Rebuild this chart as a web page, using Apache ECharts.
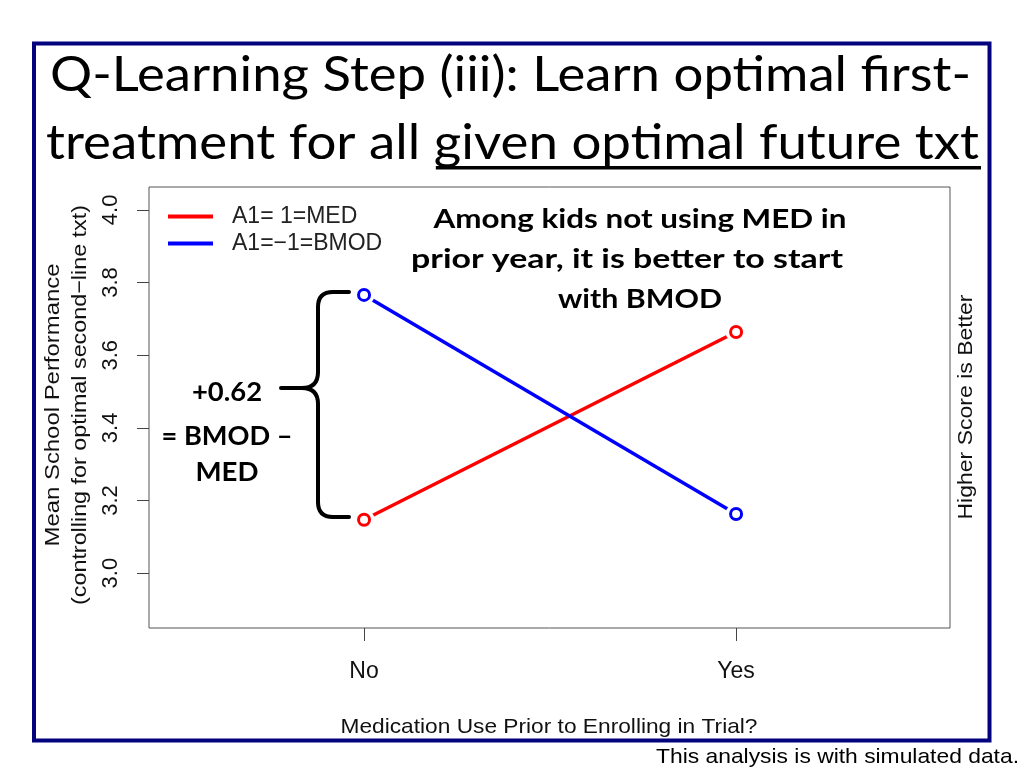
<!DOCTYPE html>
<html>
<head>
<meta charset="utf-8">
<script src="https://cdn.jsdelivr.net/npm/echarts@6/dist/echarts.min.js"></script>
<style>
html,body{margin:0;padding:0;background:#fff;}
#chart{width:1024px;height:768px;}
</style>
</head>
<body>
<div id="chart"></div>
<script>
// ---- data ----
const categories = ['No', 'Yes'];
const xPositions = [1, 2];
const medScores = [3.147, 3.664];
const bmodScores = [3.766, 3.163];
const yTicks = [3.0, 3.2, 3.4, 3.6, 3.8, 4.0];
const seriesNames = ['A1= 1=MED', 'A1=\u22121=BMOD'];
const titleLines = ['Q-Learning Step (iii): Learn optimal first-', 'treatment for all ', 'given optimal future txt'];
const noteLines = ['Among kids not using MED in', 'prior year, it is better to start', 'with BMOD'];
const diffLines = ['+0.62', '= BMOD \u2013', 'MED'];
const yTitleLines = ['Mean School Performance', '(controlling for optimal second\u2212line txt)'];
const xTitle = 'Medication Use Prior to Enrolling in Trial?';
const rightTitle = 'Higher Score is Better';
const footnote = 'This analysis is with simulated data.';

// ---- helpers ----
const mctx = document.createElement('canvas').getContext('2d');
function measure(text, font) { mctx.font = font; return mctx.measureText(text).width; }
function txt(text, font, x, y, align, targetW, rotation, fill) {
  const sx = targetW ? targetW / measure(text, font) : 1;
  return {
    type: 'text', x: x, y: y, rotation: rotation || 0, scaleX: sx, silent: true,
    style: { text: text, font: font, fill: fill || '#000',
      align: align, textAlign: align, verticalAlign: 'middle', textVerticalAlign: 'middle' }
  };
}
const braceStyle = { stroke: '#000', lineWidth: 4, fill: 'none', lineCap: 'round' };
function seg(x1, y1, x2, y2) {
  return { type: 'line', silent: true, shape: { x1: x1, y1: y1, x2: x2, y2: y2 }, style: braceStyle };
}
function curve(x1, y1, cx, cy, x2, y2) {
  return { type: 'bezierCurve', silent: true, shape: { x1: x1, y1: y1, cpx1: cx, cpy1: cy, x2: x2, y2: y2 }, style: braceStyle };
}

const titleFont = '48px Lato';
const t1 = txt(titleLines[0], titleFont, 50, 76, 'left', 921);
const line2Full = titleLines[1] + titleLines[2];
const s2 = 933 / measure(line2Full, titleFont);
const t2 = txt(line2Full, titleFont, 46, 144, 'left', 933);
const ulStart = 46 + measure(titleLines[1], titleFont) * s2 + 2;

const boldFont = 'bold 26px Lato';
const noteW = [413, 432, 164];
const noteX = [640, 627, 640];
const noteY = [220, 260, 300];
const diffW = [70, 131, 63];
const diffY = [393, 437, 473];
const rFont = '21px "Liberation Sans"';

const graphics = [
  { type: 'rect', silent: true, shape: { x: 34, y: 43.5, width: 955.5, height: 697 },
    style: { fill: 'none', stroke: '#03037f', lineWidth: 4 } },
  t1, t2,
  { type: 'rect', silent: true, shape: { x: ulStart, y: 166, width: 981 - ulStart, height: 3.5 }, style: { fill: '#000' } },
  seg(349, 292, 333, 292), curve(333, 292, 318, 292, 318, 307), seg(318, 307, 318, 372),
  curve(318, 372, 318, 388, 302, 388), seg(302, 388, 281, 388),
  curve(302, 388, 318, 388, 318, 404), seg(318, 404, 318, 502),
  curve(318, 502, 318, 517, 333, 517), seg(333, 517, 349, 517)
];
noteLines.forEach((s, i) => graphics.push(txt(s, boldFont, noteX[i], noteY[i], 'center', noteW[i])));
diffLines.forEach((s, i) => graphics.push(txt(s, boldFont, 227, diffY[i], 'center', diffW[i])));
graphics.push(txt(yTitleLines[0], rFont, 53, 405, 'center', 283, Math.PI / 2, '#111'));
graphics.push(txt(yTitleLines[1], rFont, 80, 405, 'center', 400, Math.PI / 2, '#111'));
graphics.push(txt(rightTitle, rFont, 966, 407, 'center', 225, Math.PI / 2, '#111'));
graphics.push(txt(xTitle, rFont, 549, 727, 'center', 417, 0, '#111'));
graphics.push(txt(footnote, rFont, 1019, 757, 'right', 363, 0, '#000'));

const medPts = xPositions.map((x, i) => [x, medScores[i]]);
const bmodPts = xPositions.map((x, i) => [x, bmodScores[i]]);

const chart = echarts.init(document.getElementById('chart'), null, { renderer: 'canvas', width: 1024, height: 768 });
chart.setOption({
  animation: false,
  backgroundColor: '#fff',
  grid: { left: 149, top: 187, width: 801, height: 441, show: true, borderColor: '#555', borderWidth: 1 },
  legend: {
    data: seriesNames, orient: 'vertical', left: 168, top: 205, padding: 0, icon: 'rect',
    itemWidth: 45, itemHeight: 4, itemGap: 4, selectedMode: false,
    textStyle: { fontSize: 23, fontFamily: 'Liberation Sans', color: '#222', padding: [0, 0, 0, 14] }
  },
  xAxis: {
    type: 'value', min: 0.422, max: 2.575,
    axisLine: { show: false }, splitLine: { show: false },
    axisTick: { show: true, customValues: xPositions, length: 13, lineStyle: { color: '#444' } },
    axisLabel: { customValues: xPositions, formatter: v => categories[xPositions.indexOf(v)],
      margin: 32, fontSize: 23, fontFamily: 'Liberation Sans', color: '#111' }
  },
  yAxis: {
    type: 'value', min: 2.849, max: 4.063,
    axisLine: { show: false }, splitLine: { show: false },
    axisTick: { show: true, customValues: yTicks, length: 12, lineStyle: { color: '#444' } },
    axisLabel: { customValues: yTicks, formatter: v => v.toFixed(1), rotate: 90,
      margin: 27, fontSize: 22, fontFamily: 'Liberation Sans', color: '#111' }
  },
  series: [
    { type: 'line', name: seriesNames[0], data: medPts, showSymbol: false, z: 2,
      lineStyle: { color: '#ff0000', width: 3.5 }, itemStyle: { color: '#ff0000' } },
    { type: 'line', name: seriesNames[1], data: bmodPts, showSymbol: false, z: 2,
      lineStyle: { color: '#0000ff', width: 3.5 }, itemStyle: { color: '#0000ff' } },
    { type: 'scatter', data: medPts.concat(bmodPts), symbolSize: 21, z: 3, silent: true,
      itemStyle: { color: '#ffffff', opacity: 1 } },
    { type: 'scatter', data: medPts, symbolSize: 11, z: 4, silent: true,
      itemStyle: { color: '#ffffff', borderColor: '#ff0000', borderWidth: 3, opacity: 1 } },
    { type: 'scatter', data: bmodPts, symbolSize: 11, z: 4, silent: true,
      itemStyle: { color: '#ffffff', borderColor: '#0000ff', borderWidth: 3, opacity: 1 } }
  ],
  graphic: { elements: graphics }
});
</script>
</body>
</html>
